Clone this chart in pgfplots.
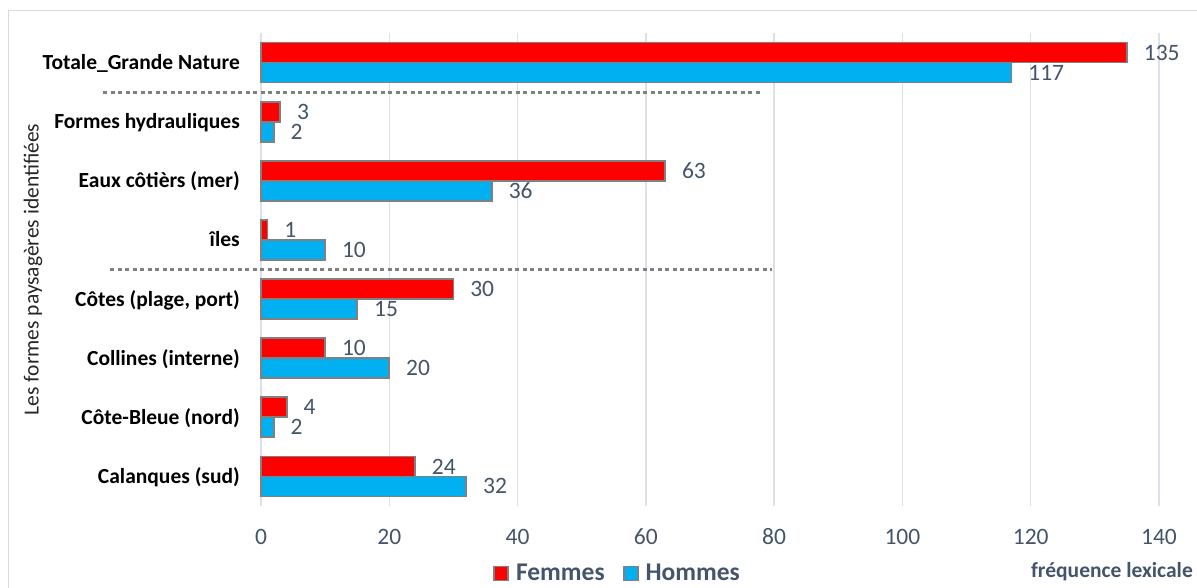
\documentclass[border=0pt]{standalone}
\usepackage{pgfplots}
\pgfplotsset{compat=1.18}
\usepackage{pgfplotstable}
\usepackage{fontspec}
\setmainfont{Carlito}
\definecolor{fem}{RGB}{255,0,0}
\definecolor{hom}{RGB}{0,176,240}
\definecolor{barb}{RGB}{128,128,128}
\definecolor{slate}{RGB}{68,84,106}
\definecolor{gridc}{RGB}{220,225,233}
\definecolor{dotc}{RGB}{128,128,128}
\definecolor{framec}{RGB}{217,217,217}
\pgfplotstableread{
y f h
0 24 32
1 4 2
2 10 20
3 30 15
4 1 10
5 63 36
6 3 2
7 135 117
}\data
\begin{document}
\begin{tikzpicture}[x=1pt,y=1pt]
\useasboundingbox (0pt,0pt) rectangle (1197pt,-587pt);
\draw[framec, line width=1pt] (8pt,-600pt) -- (8pt,-10pt) -- (1210pt,-10pt);
\begin{axis}[
  at={(261pt,-506pt)}, anchor=south west,
  scale only axis, width=898pt, height=473pt,
  xbar, bar width=20pt,
  xmin=0, xmax=140, ymin=-0.5, ymax=7.5,
  xtick={0,20,...,140}, ytick={0,...,7},
  yticklabels={Calanques (sud), Côte-Bleue (nord), Collines (interne), {Côtes (plage, port)}, îles, Eaux côtièrs (mer), Formes hydrauliques, Totale\_Grande Nature},
  xmajorgrids, grid style={gridc, line width=1.3pt},
  axis line style={draw=none}, major tick length=0pt,
  /pgf/number format/assume math mode=true,
  xticklabel style={font=\fontsize{23.5}{26}\selectfont, text=slate, anchor=center, inner sep=0pt, yshift=-31pt},
  yticklabel style={font=\bfseries\fontsize{21.5}{24}\selectfont, text=black, anchor=base east, inner sep=0pt, xshift=-21pt, yshift=-7pt},
  clip=false,
  nodes near coords,
  nodes near coords style={anchor=west, inner sep=0pt, xshift=16pt, font=\fontsize{23.5}{26}\selectfont, text=slate},
  ylabel={Les formes paysagères identifiées},
  ylabel style={at={(axis description cs:-0.2539,0.5)}, anchor=center, inner sep=0pt, font=\fontsize{21.5}{24}\selectfont, text=black!85},
  xlabel={fréquence lexicale},
  xlabel style={at={(axis description cs:1.0379,-0.1395)}, anchor=east, inner sep=0pt, font=\bfseries\fontsize{21.5}{24}\selectfont, text=slate},
  legend style={at={(axis description cs:0.2584,-0.1425)}, anchor=west, draw=none, fill=none, legend columns=2,
    font=\bfseries\fontsize{25.5}{28}\selectfont, text=slate, inner sep=0pt,
    /tikz/every odd column/.append style={column sep=5pt},
    /tikz/every even column/.append style={column sep=16pt}},
  legend image code/.code={\draw[#1, line width=1.8pt, draw=barb] (0pt,-7pt) rectangle (14pt,7pt);},
]
\addplot[fill=fem, draw=barb, line width=1.8pt, bar shift=10pt] table[x=f,y=y]{\data};
\addplot[fill=hom, draw=barb, line width=1.8pt, bar shift=-10pt] table[x=h,y=y]{\data};
\legend{Femmes, Hommes}
\draw[dotc, line width=3pt, dash pattern=on 4pt off 3.5pt] (axis cs:-24.6,6.5) -- (axis cs:78,6.5);
\draw[dotc, line width=3pt, dash pattern=on 4pt off 3.5pt] (axis cs:-23.5,3.5) -- (axis cs:79.6,3.5);
\end{axis}
\end{tikzpicture}
\end{document}
